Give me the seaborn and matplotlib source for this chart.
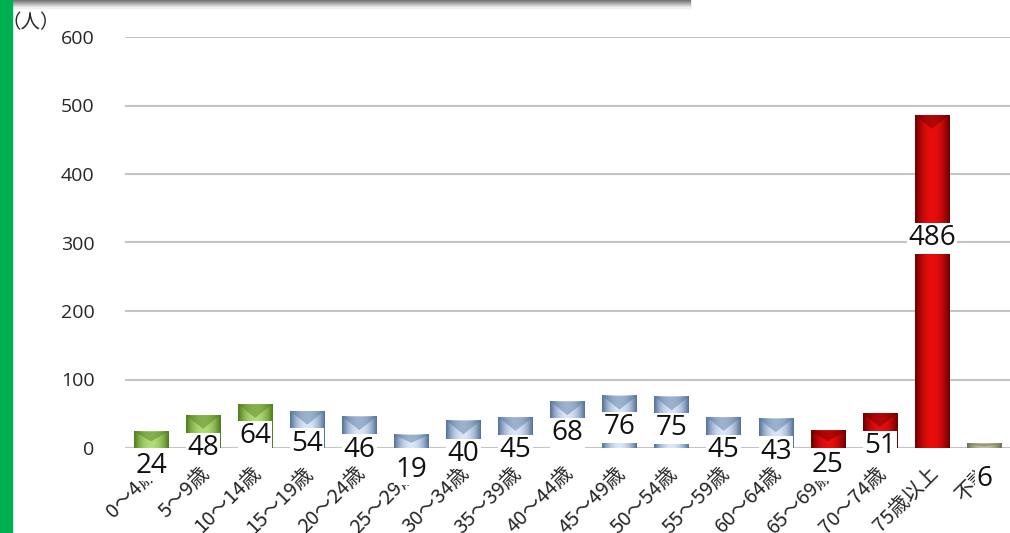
import numpy as np
import pandas as pd
import matplotlib
matplotlib.use("Agg")
import matplotlib.pyplot as plt
import matplotlib.colors as mcolors
import matplotlib.transforms as mtransforms
from matplotlib.patches import Rectangle, Polygon
import seaborn as sns

categories = ["0～4歳", "5～9歳", "10～14歳", "15～19歳", "20～24歳", "25～29歳",
              "30～34歳", "35～39歳", "40～44歳", "45～49歳", "50～54歳", "55～59歳",
              "60～64歳", "65～69歳", "70～74歳", "75歳以上", "不詳"]
values = [24, 48, 64, 54, 46, 19, 40, 45, 68, 76, 75, 45, 43, 25, 51, 486, 6]
groups = ["child"] * 3 + ["adult"] * 10 + ["senior"] * 3 + ["unknown"]
group_colors = {"child": "#8fcf3c", "adult": "#b4d0f0", "senior": "#e80000", "unknown": "#b0b088"}
group_dark = {"child": "#4f7a1c", "adult": "#52709a", "senior": "#6a0000", "unknown": "#6e6e50"}
group_light = {"child": 0.3, "adult": 0.5, "senior": 0.05, "unknown": 0.2}
yticks = [0, 100, 200, 300, 400, 500, 600]

df = pd.DataFrame({"cat": categories, "val": values, "grp": groups})

sns.set_theme(style="white")
plt.rcParams["font.family"] = ["Open Sans", "Noto Sans CJK JP", "DejaVu Sans"]

fig = plt.figure(figsize=(10.10, 5.33), dpi=100)
ax = fig.add_axes([125 / 1010, 1 - 448 / 533, 1 - 125 / 1010, (448 - 37) / 533])

palette = [group_colors[g] for g in groups]
sns.barplot(data=df, x="cat", y="val", hue="cat", palette=palette, legend=False,
            width=0.66, ax=ax, zorder=3, saturation=1)

# cylinder-like shading and top bevel on each bar
for patch, g in zip(list(ax.patches), groups):
    x0, y0 = patch.get_x(), patch.get_y()
    w, h = patch.get_width(), patch.get_height()
    base = np.array(mcolors.to_rgb(group_colors[g]))
    dark = np.array(mcolors.to_rgb(group_dark[g]))
    t = np.linspace(-1, 1, 64)
    k = np.abs(t) ** 2.0
    light = base + (1 - base) * group_light[g]
    row = light[None, :] * (1 - k[:, None]) + dark[None, :] * k[:, None]
    img = row[None, :, :]
    ax.imshow(img, extent=(x0, x0 + w, y0, y0 + h), aspect="auto", zorder=3.5,
              interpolation="bicubic")
    patch.set_alpha(0)
    top = y0 + h
    d = min(h * 0.6, 20)
    tri = Polygon([(x0, top), (x0 + w, top), (x0 + w / 2, top - d)], closed=True,
                  fc=group_dark[g], ec="none", alpha=0.45, zorder=3.6)
    ax.add_patch(tri)

ax.set_xlim(-0.5, len(categories) - 0.5)
ax.set_ylim(0, 600)
ax.set_yticks(yticks)
ax.set_yticklabels([str(v) for v in yticks], fontsize=14)
ax.yaxis.grid(True, color="#c4c4c4", linewidth=1.5, zorder=0)
ax.xaxis.grid(False)
for s in ax.spines.values():
    s.set_visible(False)
ax.tick_params(axis="y", length=0, pad=22)
ax.tick_params(axis="x", length=0, pad=16)
ax.set_xlabel("")
ax.set_ylabel("")
ax.set_xticks(range(len(categories)))
ax.set_xticklabels(categories, rotation=45, ha="right", va="center",
                   rotation_mode="anchor", fontsize=14.5,
                   family=["Noto Sans CJK JP", "DejaVu Sans"])
offset = mtransforms.ScaledTranslation(3 / 100, 0, fig.dpi_scale_trans)
for lbl in ax.get_xticklabels():
    lbl.set_transform(lbl.get_transform() + offset)

# data labels (Excel-like placement)
for i, v in enumerate(values):
    ypos = 1.08 * v - 52 if v < 100 else 0.63 * v
    ax.text(i, ypos, str(v), ha="center", va="center", fontsize=20, color="#111111",
            zorder=5, clip_on=False,
            bbox=dict(boxstyle="square,pad=0.05", fc="white", ec="none"))

ax.text(-0.14, 1.035, "（人）", transform=ax.transAxes, fontsize=14, ha="left", va="center",
        family=["Noto Sans CJK JP", "DejaVu Sans"])

# decorative frame pieces
fig.patches.append(Rectangle((0, 0), 12 / 1010, 1, transform=fig.transFigure,
                             color="#00b050", zorder=10))
for j in range(8):
    fig.patches.append(Rectangle((12 / 1010, 1 - (j + 1) / 533), (690 - 12) / 1010, 1 / 533,
                                 transform=fig.transFigure,
                                 color=str(0.45 + 0.07 * j), zorder=9))

fig.savefig("out.png", dpi=100)
